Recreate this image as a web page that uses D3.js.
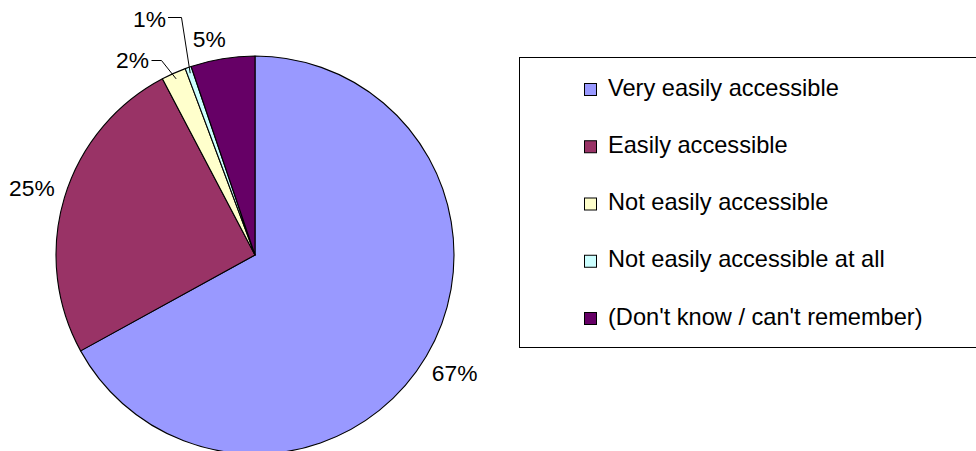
<!DOCTYPE html>
<html>
<head>
<meta charset="utf-8">
<script src="https://cdn.jsdelivr.net/npm/d3@7/dist/d3.min.js"></script>
<style>
  html, body { margin: 0; padding: 0; background: #fff; }
  svg { display: block; font-family: "Liberation Sans", Arial, sans-serif; }
</style>
</head>
<body>
<script>
// ---- data ----
const categories = [
  "Very easily accessible",
  "Easily accessible",
  "Not easily accessible",
  "Not easily accessible at all",
  "(Don't know / can't remember)"
];
const values = [67.0, 25.3, 2.0, 0.5, 5.2];
const pctLabels = ["67%", "25%", "2%", "1%", "5%"];
const colors = ["#9999FF", "#993366", "#FFFFCC", "#CCFFFF", "#660066"];

// ---- layout ----
const W = 976, H = 451;
const cx = 255, cy = 255, R = 199;

const svg = d3.select("body").append("svg")
  .attr("width", W).attr("height", H);

const pie = d3.pie().sort(null).value(d => d)
  .startAngle(0).endAngle(2 * Math.PI);
const arcs = pie(values);
const arc = d3.arc().innerRadius(0).outerRadius(R);

const g = svg.append("g").attr("transform", `translate(${cx},${cy})`);

g.selectAll("path.slice").data(arcs).enter().append("path")
  .attr("class", "slice")
  .attr("d", arc)
  .attr("fill", (d, i) => colors[i])
  .attr("stroke", "#000")
  .attr("stroke-width", 1.1)
  .attr("stroke-linejoin", "round");

function pt(a, r) { return [Math.sin(a) * r, -Math.cos(a) * r]; }

const fontSize = 22.8;
const labels = svg.append("g").attr("font-size", fontSize + "px").attr("fill", "#000");

const outside = { 0: 232, 1: 233 };
arcs.forEach((d, i) => {
  const mid = (d.startAngle + d.endAngle) / 2;
  if (outside[i] !== undefined) {
    const p = pt(mid, outside[i]);
    labels.append("text")
      .attr("x", cx + p[0]).attr("y", cy + p[1])
      .attr("dy", "0.35em")
      .attr("text-anchor", "middle")
      .text(pctLabels[i]);
  }
});

{
  const d = arcs[4];
  const mid = (d.startAngle + d.endAngle) / 2;
  const p = pt(mid - 0.045, 221);
  labels.append("text")
    .attr("x", cx + p[0]).attr("y", cy + p[1])
    .attr("dy", "0.35em")
    .attr("text-anchor", "middle")
    .text(pctLabels[4]);
}

const leaders = [
  { i: 2, textEnd: 149, baseline: 68, lineStart: 151.5, elbowX: 161.5, lineY: 60.5 },
  { i: 3, textEnd: 166, baseline: 27, lineStart: 168, elbowX: 181.5, lineY: 17.5 }
];
leaders.forEach(L => {
  const d = arcs[L.i];
  const mid = (d.startAngle + d.endAngle) / 2;
  const p = pt(mid, R - 6);
  svg.append("polyline")
    .attr("points", `${L.lineStart},${L.lineY} ${L.elbowX},${L.lineY} ${cx + p[0]},${cy + p[1]}`)
    .attr("fill", "none")
    .attr("stroke", "#000")
    .attr("stroke-width", 1);
  labels.append("text")
    .attr("x", L.textEnd).attr("y", L.baseline)
    .attr("text-anchor", "end")
    .text(pctLabels[L.i]);
});

// ---- legend ----
const legend = svg.append("g");
legend.append("rect")
  .attr("x", 519.5).attr("y", 57.5)
  .attr("width", 470).attr("height", 290)
  .attr("fill", "#fff")
  .attr("stroke", "#000")
  .attr("stroke-width", 1);

const rowY = d3.scalePoint().domain(d3.range(categories.length)).range([90, 319]);
categories.forEach((c, i) => {
  const y = rowY(i);
  legend.append("rect")
    .attr("x", 584.5).attr("y", y - 6.5)
    .attr("width", 12).attr("height", 12)
    .attr("fill", colors[i])
    .attr("stroke", "#000").attr("stroke-width", 1);
  legend.append("text")
    .attr("x", 608).attr("y", y + 5.5)
    .attr("font-size", "23.6px")
    .attr("fill", "#000")
    .text(c);
});
</script>
</body>
</html>
